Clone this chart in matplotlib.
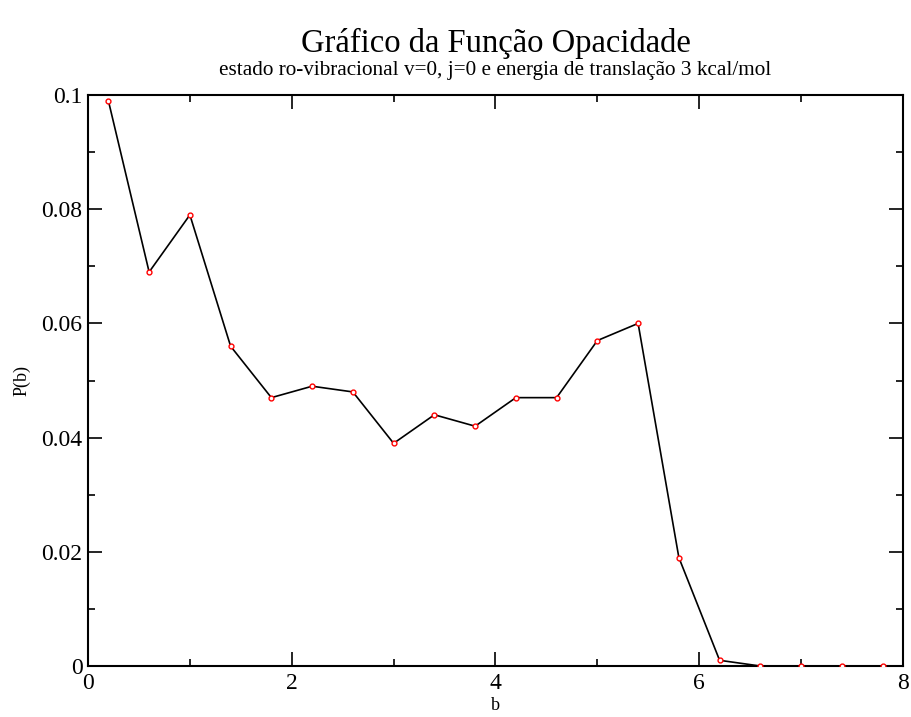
import matplotlib
matplotlib.use("Agg")
import matplotlib.pyplot as plt
from matplotlib.ticker import MultipleLocator, FuncFormatter

b_values = [0.2, 0.6, 1.0, 1.4, 1.8, 2.2, 2.6, 3.0, 3.4, 3.8,
            4.2, 4.6, 5.0, 5.4, 5.8, 6.2, 6.6, 7.0, 7.4, 7.8]
p_values = [0.099, 0.069, 0.079, 0.056, 0.047, 0.049, 0.048, 0.039, 0.044, 0.042,
            0.047, 0.047, 0.057, 0.060, 0.019, 0.001, 0.0, 0.0, 0.0, 0.0]

title = "Gráfico da Função Opacidade"
subtitle = "estado ro-vibracional v=0, j=0 e energia de translação 3 kcal/mol"
xlabel = "b"
ylabel = "P(b)"

plt.rcParams['font.family'] = ['Liberation Serif', 'DejaVu Serif']

fig = plt.figure(figsize=(9.12, 7.17), dpi=100)
L, B, W, H = 0.0965, 0.0711, 0.8936, 0.7964
ax = fig.add_axes([L, B, W, H])

ax.plot(b_values, p_values, color='black', linewidth=1.2, zorder=2)
ax.plot(b_values, p_values, linestyle='none', marker='o', markersize=3.5,
        markerfacecolor='white', markeredgecolor='red', markeredgewidth=1.0, zorder=3)

ax.set_xlim(0, 8)
ax.set_ylim(0, 0.1)
ax.xaxis.set_major_locator(MultipleLocator(2))
ax.xaxis.set_minor_locator(MultipleLocator(1))
ax.yaxis.set_major_locator(MultipleLocator(0.02))
ax.yaxis.set_minor_locator(MultipleLocator(0.01))

def fmt(v, pos):
    if abs(v) < 1e-12:
        return "0"
    s = f"{v:.2f}".rstrip('0').rstrip('.')
    return s
ax.yaxis.set_major_formatter(FuncFormatter(fmt))
ax.xaxis.set_major_formatter(FuncFormatter(lambda v, p: f"{v:g}"))

ax.tick_params(which='both', direction='in', top=True, right=True, width=1.2)
ax.tick_params(which='major', length=10, labelsize=17)
ax.tick_params(axis='y', which='major', pad=4)
ax.tick_params(axis='x', which='major', pad=5)
ax.tick_params(which='minor', length=5)
for s in ax.spines.values():
    s.set_linewidth(1.5)

ax.set_xlabel(xlabel, fontsize=13, labelpad=2)
ax.set_ylabel(ylabel, fontsize=13, labelpad=8)

cx = L + W / 2
fig.text(cx, 0.94, title, ha='center', va='center', fontsize=23.5)
fig.text(cx, 0.902, subtitle, ha='center', va='center', fontsize=15.3)

fig.savefig("out.png", dpi=100)
